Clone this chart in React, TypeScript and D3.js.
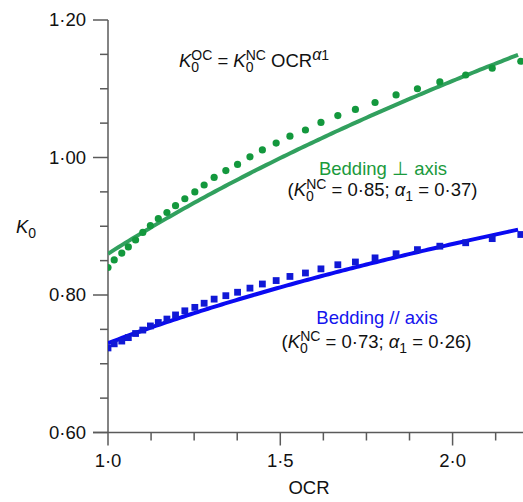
import React from "react";
import * as d3 from "d3";

// ---- data ----
const ocr = [1.0, 1.018, 1.04, 1.059, 1.08, 1.101, 1.123, 1.146, 1.171, 1.196, 1.223, 1.252, 1.279, 1.308, 1.342, 1.376, 1.412, 1.448, 1.488, 1.528, 1.573, 1.618, 1.667, 1.718, 1.775, 1.836, 1.898, 1.963, 2.038, 2.115, 2.198];
const k0Perp = [0.840, 0.851, 0.861, 0.870, 0.880, 0.891, 0.901, 0.911, 0.920, 0.930, 0.940, 0.950, 0.960, 0.971, 0.981, 0.990, 1.001, 1.011, 1.021, 1.031, 1.040, 1.051, 1.061, 1.070, 1.080, 1.091, 1.100, 1.110, 1.120, 1.130, 1.140];
const k0Par = [0.723, 0.729, 0.733, 0.738, 0.744, 0.749, 0.755, 0.760, 0.765, 0.771, 0.777, 0.782, 0.788, 0.794, 0.799, 0.804, 0.810, 0.816, 0.821, 0.827, 0.832, 0.838, 0.844, 0.848, 0.854, 0.860, 0.866, 0.871, 0.876, 0.882, 0.888];

// fitted curves K0 = k * OCR^a (as drawn)
const fitK = [0.86, 0.73];
const fitAlpha = [0.37, 0.26];
const fitRange = [1.0, 2.19];

const xMajor = [1.0, 1.5, 2.0];
const xMajorLabels = ["1·0", "1·5", "2·0"];
const xMinor = [1.125, 1.25, 1.375, 1.625, 1.75, 1.875, 2.125];
const yMajor = [0.6, 0.8, 1.0, 1.2];
const yMajorLabels = ["0·60", "0·80", "1·00", "1·20"];
const yMinor = [0.65, 0.7, 0.75, 0.85, 0.9, 0.95, 1.05, 1.1, 1.15];

const GREEN_DOT = "#13983d";
const GREEN_LINE = "#31a05e";
const GREEN_TEXT = "#1a9a3c";
const BLUE_DOT = "#1018d6";
const BLUE_LINE = "#0a0af2";
const BLUE_TEXT = "#1414ee";
const AXIS = "#5a5a5a";
const FONT = "'Liberation Sans', Arial, Helvetica, sans-serif";
const SUB = 14;

const x = d3.scaleLinear().domain([1, 2.2]).range([108, 521.5]);
const y = d3.scaleLinear().domain([0.6, 1.2]).range([432.5, 20]);

function curve(k: number, a: number) {
  const pts = d3.range(fitRange[0], fitRange[1] + 1e-9, 0.01).map((o) => [o, k * Math.pow(o, a)] as [number, number]);
  return d3.line<[number, number]>().x((d) => x(d[0])).y((d) => y(d[1]))(pts) || "";
}

function KSym({ sup }: { sup?: string }) {
  return (
    <>
      <tspan fontStyle="italic">K</tspan>
      <tspan fontSize={SUB} dy={5}>0</tspan>
      {sup ? (
        <tspan fontSize={SUB} dx={-SUB * 0.556} dy={-12}>{sup}</tspan>
      ) : null}
    </>
  );
}

export default function App() {
  const xAxisY = y(0.6);
  const yAxisX = x(1);
  return (
    <svg width={523} height={502} style={{ position: "absolute", left: 0, top: 0, background: "#fff" }} fontFamily={FONT}>
      <defs>
        <clipPath id="plot">
          <rect x={yAxisX} y={0} width={523 - yAxisX} height={xAxisY} />
        </clipPath>
      </defs>

      {/* axes */}
      <line x1={yAxisX} x2={yAxisX} y1={y(1.2)} y2={xAxisY} stroke={AXIS} strokeWidth={1.5} />
      <line x1={yAxisX - 15} x2={523} y1={xAxisY} y2={xAxisY} stroke={AXIS} strokeWidth={1.5} />
      {yMajor.map((v) => (
        <line key={"ym" + v} x1={yAxisX - 15} x2={yAxisX} y1={y(v)} y2={y(v)} stroke={AXIS} strokeWidth={1.5} />
      ))}
      {yMinor.map((v) => (
        <line key={"yn" + v} x1={yAxisX - 8} x2={yAxisX} y1={y(v)} y2={y(v)} stroke={AXIS} strokeWidth={1.5} />
      ))}
      {xMajor.map((v) => (
        <line key={"xm" + v} x1={x(v)} x2={x(v)} y1={xAxisY} y2={xAxisY + 13} stroke={AXIS} strokeWidth={1.5} />
      ))}
      {xMinor.map((v) => (
        <line key={"xn" + v} x1={x(v)} x2={x(v)} y1={xAxisY} y2={xAxisY + 8} stroke={AXIS} strokeWidth={1.5} />
      ))}
      {yMajor.map((v, i) => (
        <text key={"yl" + v} x={86} y={y(v) + 6} textAnchor="end" fontSize={18.5} fill="#111">{yMajorLabels[i]}</text>
      ))}
      {xMajor.map((v, i) => (
        <text key={"xl" + v} x={x(v)} y={xAxisY + 34} textAnchor="middle" fontSize={18.5} fill="#111">{xMajorLabels[i]}</text>
      ))}
      <text x={309} y={494} textAnchor="middle" fontSize={18.5} fill="#111">OCR</text>
      <text x={16} y={233} fontSize={18.5} fill="#111"><KSym /></text>

      {/* fitted curves */}
      <g clipPath="url(#plot)">
        <path d={curve(fitK[0], fitAlpha[0])} fill="none" stroke={GREEN_LINE} strokeWidth={4} />
        <path d={curve(fitK[1], fitAlpha[1])} fill="none" stroke={BLUE_LINE} strokeWidth={4} />
        {ocr.map((o, i) => (
          <circle key={"g" + i} cx={x(o)} cy={y(k0Perp[i])} r={3.6} fill={GREEN_DOT} />
        ))}
        {ocr.map((o, i) => (
          <rect key={"b" + i} x={x(o) - 3.4} y={y(k0Par[i]) - 3.4} width={6.8} height={6.8} fill={BLUE_DOT} />
        ))}
      </g>

      {/* equation */}
      <text x={254} y={67} textAnchor="middle" fontSize={18.5} fill="#111">
        <KSym sup="OC" />
        <tspan dy={7}> = </tspan>
        <KSym sup="NC" />
        <tspan dy={7}> OCR</tspan>
        <tspan fontSize={16} dy={-7} fontStyle="italic">α</tspan>
        <tspan fontSize={SUB}>1</tspan>
      </text>

      {/* green annotation */}
      <text x={383} y={175} textAnchor="middle" fontSize={18.5} fill={GREEN_TEXT}>Bedding ⊥ axis</text>
      <text x={382.5} y={196} textAnchor="middle" fontSize={18.5} fill="#111">
        <tspan>(</tspan>
        <KSym sup="NC" />
        <tspan dy={7}> = 0·85; </tspan>
        <tspan fontStyle="italic">α</tspan>
        <tspan fontSize={SUB} dy={5}>1</tspan>
        <tspan dy={-5}> = 0·37)</tspan>
      </text>

      {/* blue annotation */}
      <text x={377} y={324} textAnchor="middle" fontSize={18.5} fill={BLUE_TEXT}>Bedding // axis</text>
      <text x={376.5} y={348} textAnchor="middle" fontSize={18.5} fill="#111">
        <tspan>(</tspan>
        <KSym sup="NC" />
        <tspan dy={7}> = 0·73; </tspan>
        <tspan fontStyle="italic">α</tspan>
        <tspan fontSize={SUB} dy={5}>1</tspan>
        <tspan dy={-5}> = 0·26)</tspan>
      </text>
    </svg>
  );
}
